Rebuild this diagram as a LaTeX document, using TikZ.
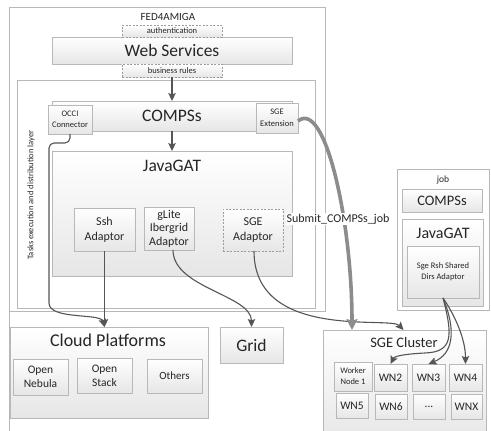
\documentclass[tikz,border=0pt]{standalone}
\usepackage{fontspec}
\setmainfont{Carlito}
\usetikzlibrary{shadows,arrows.meta,calc}
\definecolor{bord}{HTML}{B8B8B8}
\definecolor{boxbot}{HTML}{E6E6E6}
\definecolor{txt}{HTML}{262626}
\definecolor{arrc}{HTML}{555555}
\definecolor{thickc}{HTML}{8C8C8C}
\newcommand\fs[2]{\fontsize{#1}{#2}\selectfont}
% style, name, x1, y1, x2, y2, text
\newcommand\boxnode[7]{\node[#1, minimum width={(#5)-(#3)}, minimum height={(#6)-(#4)}]
  (#2) at ({((#3)+(#5))/2},{((#4)+(#6))/2}) {#7};}
\tikzset{
  box/.style={draw=bord, line width=0.8pt, top color=white, bottom color=boxbot,
    inner sep=0pt, outer sep=0pt, text=txt, align=center,
    drop shadow={shadow xshift=1.2pt, shadow yshift=-1.2pt, fill=black!22}},
  plainbox/.style={draw=bord, line width=0.8pt, fill=white, inner sep=0pt, outer sep=0pt, text=txt, align=center},
  dbox/.style={draw=bord!85!black, line width=0.8pt, dash pattern=on 2pt off 1.5pt,
    top color=white, bottom color=boxbot, inner sep=0pt, outer sep=0pt, text=txt, align=center},
  lbl/.style={text=txt, inner sep=0pt, align=center},
  arr/.style={draw=arrc, line width=1.1pt, -{Stealth[length=8pt,width=7.5pt,inset=1.5pt]}},
  thickarr/.style={draw=thickc, line width=3.6pt, -{Stealth[length=11pt,width=11pt,inset=2pt]}},
}
\begin{document}
\begin{tikzpicture}[x=1pt,y=-1pt]
\useasboundingbox (0,0) rectangle (491,431);
\clip (0,0) rectangle (491,431);
% outer FED4AMIGA box
\boxnode{plainbox}{fed}{9}{7}{325}{311}{}
\draw[draw=bord, line width=0.8pt] (fed.south west) -- ++(0,125);
\node[lbl, font=\fs{11}{13}] (fedtitle) at (168,17) {FED4AMIGA};
% web services
\boxnode{box, font=\fs{17.5}{20}}{ws}{52}{37}{292}{64}{Web Services}
\boxnode{dbox, font=\fs{8.5}{10}}{auth}{122}{25}{222}{37}{authentication}
\boxnode{dbox, font=\fs{8.5}{10}}{biz}{122}{64}{222}{77}{business rules}
% tasks layer
\boxnode{plainbox}{layer}{17}{80}{315}{308}{}
\node[lbl, rotate=90, font=\fs{8.5}{10}] (layertxt) at (31,195) {Tasks execution and distribution layer};
% COMPSs
\boxnode{box, font=\fs{17.5}{20}}{compss}{52}{101}{292}{131}{COMPSs}
\boxnode{box, font=\fs{8.5}{11.5}}{occi}{48}{105}{92}{134}{OCCI\\Connector}
\boxnode{box, font=\fs{8.5}{11.5}}{sgeext}{256}{103}{298}{133}{SGE\\Extension}
% JavaGAT
\boxnode{box}{javagat}{52}{151}{292}{276}{}
\node[lbl, font=\fs{17.5}{20}] (javagattitle) at (172,166) {JavaGAT};
\boxnode{box, font=\fs{12}{15}}{ssh}{74}{208}{135}{251}{Ssh\\Adaptor}
\boxnode{box, font=\fs{12}{13.5}}{glite}{144}{207}{194}{250}{gLite\\Ibergrid\\Adaptor}
\boxnode{dbox, font=\fs{12}{15}}{sgead}{223}{209}{283}{251}{SGE\\Adaptor}
% job
\boxnode{plainbox}{job}{397}{169}{489}{310}{}
\node[lbl, font=\fs{9.5}{11}] (jobtitle) at (443,180) {job};
\boxnode{box, font=\fs{14.5}{17}}{jcompss}{402}{189}{482}{212}{COMPSs}
\boxnode{box}{jjavagat}{402}{219}{483}{306}{}
\node[lbl, font=\fs{16}{18}] (jjavagattitle) at (443,233) {JavaGAT};
\boxnode{box, font=\fs{8.5}{11}}{rsh}{407}{246}{479}{298}{Sge Rsh Shared\\Dirs Adaptor}
% cloud platforms
\boxnode{box}{cloud}{10}{327}{208}{418}{}
\node[lbl, font=\fs{18}{20}] (cloudtitle) at (108,340) {Cloud Platforms};
\boxnode{box, font=\fs{11.5}{14}}{onebula}{13}{359}{68}{395}{Open\\Nebula}
\boxnode{box, font=\fs{11.5}{14}}{ostack}{77}{358}{132}{393}{Open\\Stack}
\boxnode{box, font=\fs{11}{14}}{others}{147}{359}{202}{393}{Others}
% grid
\boxnode{box, font=\fs{17.5}{20}}{grid}{220}{327}{283}{363}{Grid}
% SGE cluster
\boxnode{box}{sgecl}{323}{330}{486}{445}{}
\node[lbl, font=\fs{14.5}{17}] (sgecltitle) at (404,343) {SGE Cluster};
\boxnode{box, font=\fs{8.5}{11}}{wn1}{334}{362}{372}{391}{Worker\\Node 1}
\boxnode{box, font=\fs{11.5}{14}}{wn2}{374}{364}{407}{391}{WN2}
\boxnode{box, font=\fs{11.5}{14}}{wn3}{412}{364}{445}{391}{WN3}
\boxnode{box, font=\fs{11.5}{14}}{wn4}{449}{364}{482}{391}{WN4}
\boxnode{box, font=\fs{11.5}{14}}{wn5}{336}{393}{368}{418}{WN5}
\boxnode{box, font=\fs{11.5}{14}}{wn6}{375}{394}{407}{419}{WN6}
\boxnode{box, font=\fs{11.5}{14}}{wndots}{413}{394}{445}{419}{...}
\boxnode{box, font=\fs{11.5}{14}}{wnx}{451}{394}{482}{419}{WNX}
% connectors
\draw[arr] (biz.south) -- (compss.north);
\draw[arr] (compss.south) -- (javagat.north);
\coordinate (cloudin) at (ssh.south |- cloud.north);
\draw[arr] (occi.south) [rounded corners=5pt] -- ++(0,9) -- ++(-21,0) -- ++(0,155)
   [sharp corners] .. controls +(0,22) and +(-4,-14) .. (cloudin);
\draw[arr] (ssh.south) -- (cloudin);
\draw[arr] ([xshift=4pt]glite.south) .. controls +(0,38) and +(0,-32) .. (grid.north);
\draw[arr] ([xshift=1pt]sgead.south) .. controls +(0,90) and +(-13,-14) .. ([xshift=-1pt]sgecl.north);
\draw[thickarr] ([yshift=-3pt]sgeext.east) .. controls +(27,-22) and +(0,-110) .. ([xshift=29pt]sgecl.north west);
\node[lbl, fill=white, inner sep=1pt, font=\fs{12}{14}] (submit) at (338,219) {Submit\_COMPSs\_job};
\draw[arr] (rsh.south) .. controls +(10,38) and +(28,-1) .. (425,353) .. controls +(-20,1) and +(4,-8) .. (wn2.north);
\draw[arr] (rsh.south) .. controls +(14,34) and +(24,-10) .. (wn3.north);
\draw[arr] (rsh.south) .. controls +(11,16) and +(0,-26) .. (wn4.north);
\end{tikzpicture}
\end{document}
